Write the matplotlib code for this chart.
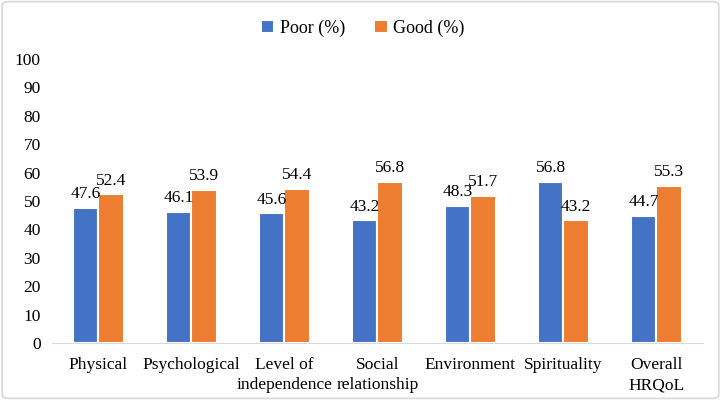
import matplotlib.pyplot as plt
import numpy as np
from matplotlib.patches import FancyBboxPatch

categories = ["Physical", "Psychological", "Level of\nindependence", "Social\nrelationship",
              "Environment", "Spirituality", "Overall\nHRQoL"]
poor = [47.6, 46.1, 45.6, 43.2, 48.3, 56.8, 44.7]
good = [52.4, 53.9, 54.4, 56.8, 51.7, 43.2, 55.3]

plt.rcParams['font.family'] = ['Liberation Serif', 'DejaVu Serif']
plt.rcParams['font.size'] = 12.5

fig = plt.figure(figsize=(7.21, 4.0), dpi=100)
ax = fig.add_axes([0.072, 0.1425, 0.903, 0.71])

x = np.arange(len(categories))
w = 0.27
b1 = ax.bar(x - w / 2, poor, w, color='#4472C4', edgecolor='white', linewidth=1.5, label='Poor (%)')
b2 = ax.bar(x + w / 2, good, w, color='#ED7D31', edgecolor='white', linewidth=1.5, label='Good (%)')

for bars, vals in ((b1, poor), (b2, good)):
    for r, v in zip(bars, vals):
        ax.text(r.get_x() + r.get_width() / 2, v + 2.0, f"{v:.1f}", ha='center', va='bottom')

ax.set_ylim(0, 100)
ax.set_xlim(-0.5, len(categories) - 0.5)
ax.set_yticks(range(0, 101, 10))
ax.set_xticks(x)
ax.set_xticklabels(categories, linespacing=1.35)
for s in ['top', 'right', 'left']:
    ax.spines[s].set_visible(False)
ax.spines['bottom'].set_color('#D9D9D9')
ax.tick_params(axis='both', length=0, pad=8)
ax.tick_params(axis='x', pad=10)

fig.legend(handles=[b1, b2], loc='center', bbox_to_anchor=(0.503, 0.93), ncol=2, frameon=False,
           handlelength=0.75, handleheight=0.75, handletextpad=0.3, columnspacing=1.6, fontsize=13)

fig.patches.append(FancyBboxPatch((0.003, 0.004), 0.994, 0.992, boxstyle='round,pad=0,rounding_size=0.01',
                                  transform=fig.transFigure, fill=False, edgecolor='#D9D9D9', linewidth=1.2))

fig.savefig('out.png', dpi=100)
